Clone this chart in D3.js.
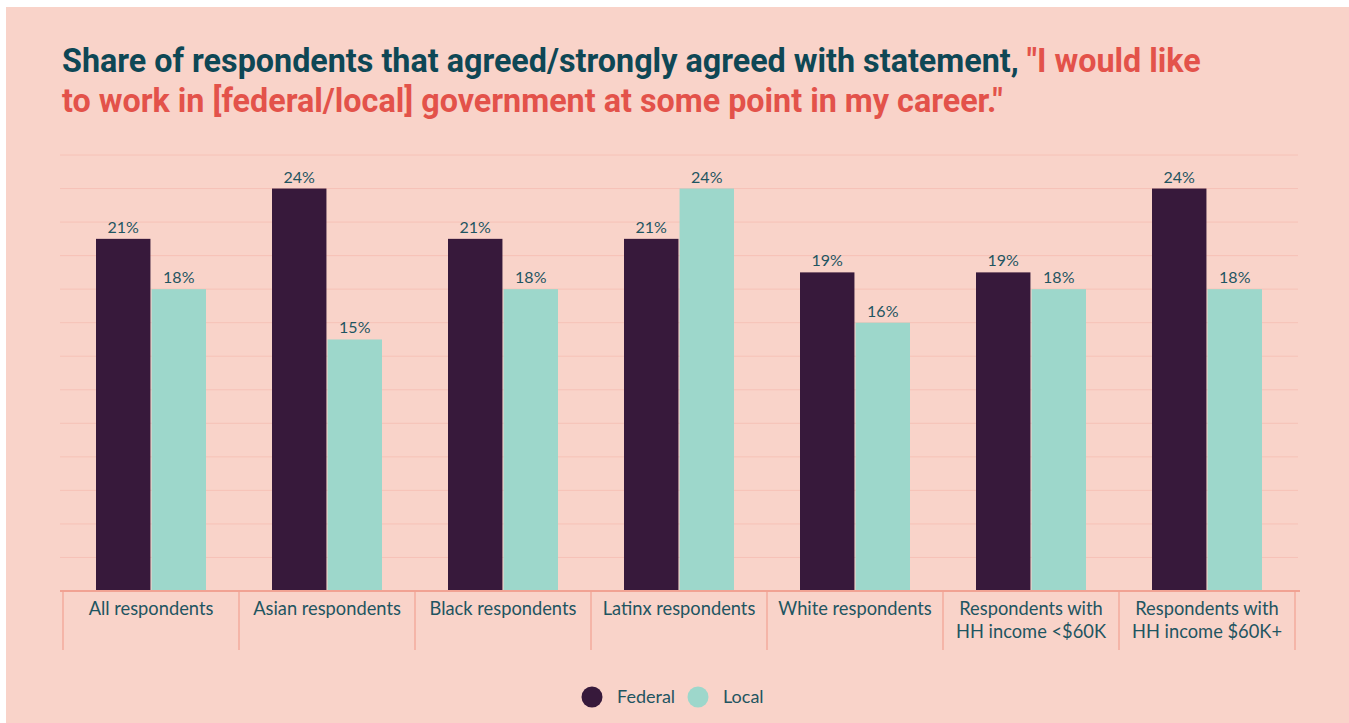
<!DOCTYPE html>
<html>
<head>
<meta charset="utf-8">
<script src="https://cdn.jsdelivr.net/npm/d3@7"></script>
<style>
  html, body { margin: 0; padding: 0; background: #ffffff; }
  svg { display: block; }
</style>
</head>
<body>
<svg id="chart" width="1349" height="723"></svg>
<script>
// Survey: share who agreed/strongly agreed they'd like to work in government
const categories = [
  ["All respondents"],
  ["Asian respondents"],
  ["Black respondents"],
  ["Latinx respondents"],
  ["White respondents"],
  ["Respondents with", "HH income <$60K"],
  ["Respondents with", "HH income $60K+"]
];
const federalValues = [21, 24, 21, 21, 19, 19, 24];
const localValues   = [18, 15, 18, 24, 16, 18, 18];
const seriesNames   = ["Federal", "Local"];
const gridTicks     = [2, 4, 6, 8, 10, 12, 14, 16, 18, 20, 22, 24, 26];

const colors = { Federal: "#37193b", Local: "#9dd7cb" };
const bg = "#f9d3c9";
const textTeal = "#1f5561";
const labelFont = "Lato, 'Open Sans', sans-serif";

const svg = d3.select("#chart");

// panel background
svg.append("rect").attr("x", 6).attr("y", 7).attr("width", 1343).attr("height", 716).attr("fill", bg);

// title
const title = svg.append("text")
  .attr("font-family", "Roboto, sans-serif")
  .attr("font-weight", 700)
  .attr("font-size", 32.3);
const l1 = title.append("tspan").attr("x", 62).attr("y", 72);
l1.append("tspan").attr("fill", "#0e4755").text("Share of respondents that agreed/strongly agreed with statement, ");
l1.append("tspan").attr("fill", "#e3524a").text("\"I would like");
title.append("tspan").attr("x", 62).attr("y", 112).attr("fill", "#e3524a")
  .text("to work in [federal/local] government at some point in my career.\"");

// scales
const x0 = d3.scaleBand().domain(d3.range(categories.length)).range([63, 1295]).padding(0);
const bw = x0.bandwidth();
const x1 = d3.scaleBand().domain(seriesNames).range([bw * 0.1875, bw * 0.8125]).paddingInner(0.02);
const y = d3.scaleLinear().domain([0, 26]).range([591, 155]);

// gridlines
svg.append("g").selectAll("line").data(gridTicks).join("line")
  .attr("x1", 60).attr("x2", 1298)
  .attr("y1", d => y(d)).attr("y2", d => y(d))
  .attr("stroke", "#f6c2b7").attr("stroke-width", 1);

// bars
const rows = categories.map((c, i) => ({ i, values: [
  { key: "Federal", v: federalValues[i] },
  { key: "Local", v: localValues[i] }
]}));

const groups = svg.append("g").selectAll("g").data(rows).join("g")
  .attr("transform", d => `translate(${x0(d.i)},0)`);

groups.selectAll("rect").data(d => d.values).join("rect")
  .attr("x", d => x1(d.key))
  .attr("width", x1.bandwidth())
  .attr("y", d => y(d.v))
  .attr("height", d => y(0) - y(d.v))
  .attr("fill", d => colors[d.key]);

groups.selectAll("text.val").data(d => d.values).join("text")
  .attr("class", "val")
  .attr("x", d => x1(d.key) + x1.bandwidth() / 2)
  .attr("y", d => y(d.v) - 6)
  .attr("text-anchor", "middle")
  .attr("font-family", labelFont)
  .attr("font-size", 16)
  .attr("fill", textTeal)
  .text(d => d.v + "%");

// baseline and category separators
svg.append("line").attr("x1", 60).attr("x2", 1300).attr("y1", y(0)).attr("y2", y(0))
  .attr("stroke", "#f1a293").attr("stroke-width", 2);

const boundaries = d3.range(categories.length + 1).map(i => 63 + i * bw);
svg.append("g").selectAll("line").data(boundaries).join("line")
  .attr("x1", d => d).attr("x2", d => d)
  .attr("y1", y(0)).attr("y2", 650)
  .attr("stroke", "#f1a293").attr("stroke-width", 1.2);

// category labels
const catLabels = svg.append("g").selectAll("text").data(categories).join("text")
  .attr("text-anchor", "middle")
  .attr("font-family", labelFont)
  .attr("font-size", 18.3)
  .attr("fill", textTeal);
catLabels.selectAll("tspan").data((d, i) => d.map(t => ({ t, i }))).join("tspan")
  .attr("x", d => x0(d.i) + bw / 2)
  .attr("y", (d, j) => 615 + j * 23)
  .text(d => d.t);

// legend
const legend = svg.append("g");
const legendItems = [
  { key: "Federal", cx: 592, tx: 617 },
  { key: "Local", cx: 698, tx: 723 }
];
legend.selectAll("circle").data(legendItems).join("circle")
  .attr("cx", d => d.cx).attr("cy", 697).attr("r", 10.5)
  .attr("fill", d => colors[d.key]);
legend.selectAll("text").data(legendItems).join("text")
  .attr("x", d => d.tx).attr("y", 703)
  .attr("font-family", labelFont)
  .attr("font-size", 18)
  .attr("fill", textTeal)
  .text(d => d.key);
</script>
</body>
</html>
